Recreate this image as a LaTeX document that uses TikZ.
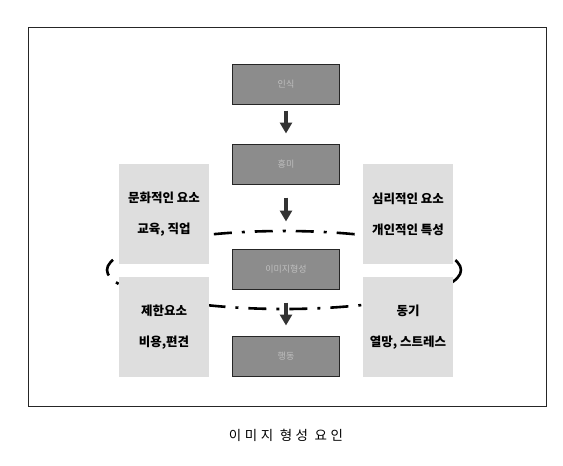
\documentclass[tikz,border=0pt]{standalone}
\usepackage{fontspec}
\usepackage{tikz}
\usetikzlibrary{arrows.meta}
\newfontfamily\kr{Noto Sans CJK KR}
\newfontfamily\krcap[LetterSpace=26]{Noto Sans CJK KR}

\begin{document}
\begin{tikzpicture}[x=1pt, y=-1pt,
  stage/.style={draw=black!85, line width=1pt, fill=black!45, minimum width=107pt, minimum height=40pt, inner sep=0pt, text=black!25, font=\kr\small},
  factor/.style={fill=black!13, minimum width=90pt, minimum height=100pt, inner sep=0pt, align=center, font=\kr\bfseries\fontsize{12.5}{31}\selectfont},
  flow/.style={-{Triangle[length=11pt, width=12pt]}, line width=3.2pt, draw=black!80},
  bound/.style={line width=2.6pt, dash pattern=on 18pt off 10pt on 3pt off 10pt}]
\useasboundingbox (0,0) rectangle (563,466);
\draw[line width=0.9pt, draw=black!85] (28,27) rectangle (546,406);
\draw[bound] (284,270) ellipse [x radius=177, y radius=39];
\node[stage] (s1) at (286,84) {인식};
\node[stage] (s2) at (286,164) {흥미};
\node[stage] (s3) at (286,269) {이미지형성};
\node[stage] (s4) at (286,356) {행동};
\node[factor] (culture) at (164,214) {문화적인 요소\\교육, 직업};
\node[factor] (limit) at (164,327) {제한요소\\비용,편견};
\node[factor] (psych) at (408,214) {심리적인 요소\\개인적인 특성};
\node[factor] (motive) at (408,327) {동기\\열망, 스트레스};
\draw[flow, shorten <=6pt, shorten >=10pt] (s1) -- (s2);
\draw[flow, shorten <=13pt, shorten >=27pt] (s2) -- (s3);
\draw[flow, shorten <=13pt, shorten >=10pt] (s3) -- (s4);
\node[font=\krcap\fontsize{13.5}{15}\selectfont] (title) at (286,435) {이미지 형성 요인};
\end{tikzpicture}
\end{document}
